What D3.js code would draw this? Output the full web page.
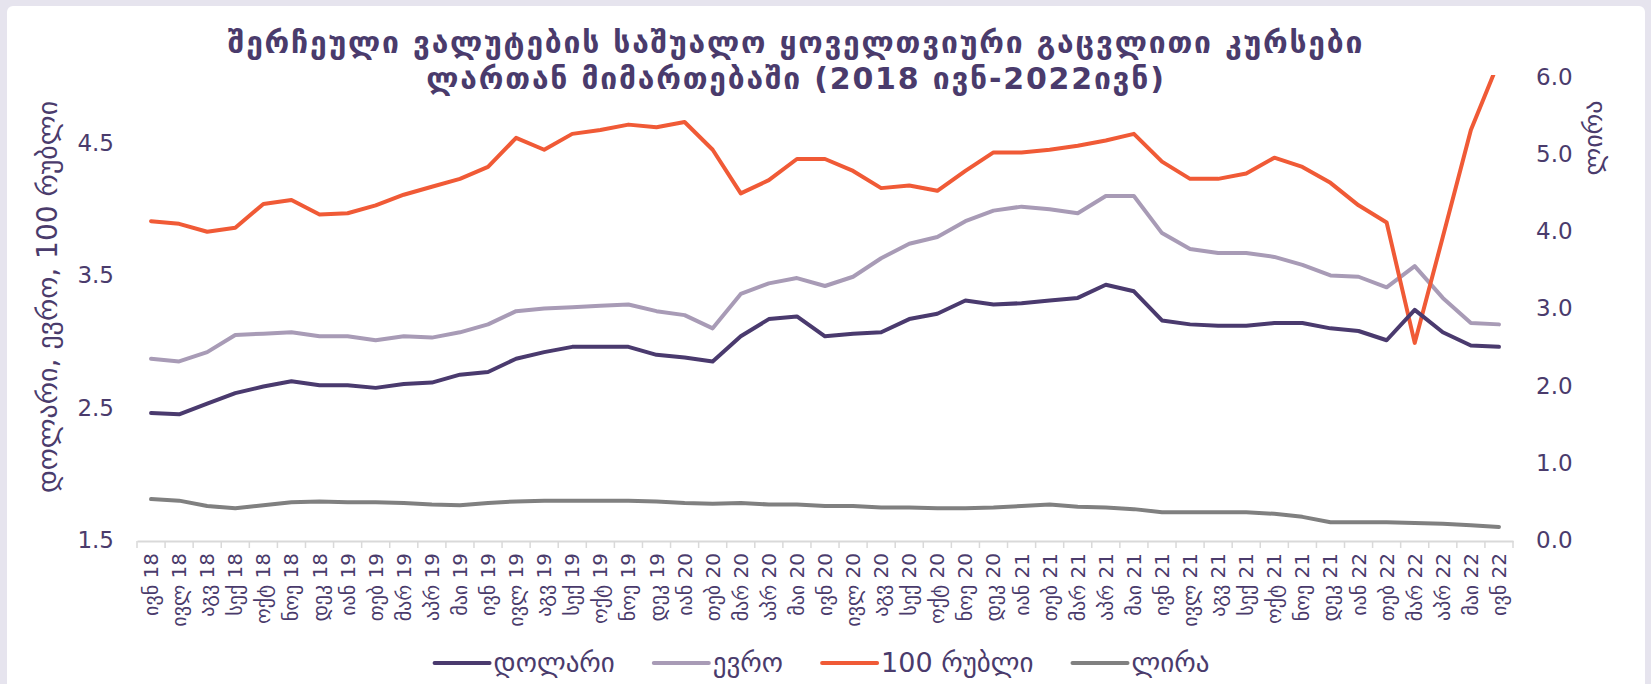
<!DOCTYPE html>
<head>
  <meta charset="utf-8">
  <style>
    html, body { margin: 0; padding: 0; background: #e6e4ee; }
    svg { display: block; }
    text { font-family: "DejaVu Sans", sans-serif; fill: #4a3b6c; }
    .title { font-weight: bold; letter-spacing: 1.8px; }
    .line { fill: none; stroke-width: 4px; stroke-linejoin: round; stroke-linecap: round; }
  </style>
  <script src="https://d3js.org/d3.v7.min.js"></script>
</head>

<body>
  <div id="content"></div>
  <script>
  // month labels (x axis)
  var labels = ["ივნ 18","ივლ 18","აგვ 18","სექ 18","ოქტ 18","ნოე 18","დეკ 18",
    "იან 19","თებ 19","მარ 19","აპრ 19","მაი 19","ივნ 19","ივლ 19","აგვ 19","სექ 19","ოქტ 19","ნოე 19","დეკ 19",
    "იან 20","თებ 20","მარ 20","აპრ 20","მაი 20","ივნ 20","ივლ 20","აგვ 20","სექ 20","ოქტ 20","ნოე 20","დეკ 20",
    "იან 21","თებ 21","მარ 21","აპრ 21","მაი 21","ივნ 21","ივლ 21","აგვ 21","სექ 21","ოქტ 21","ნოე 21","დეკ 21",
    "იან 22","თებ 22","მარ 22","აპრ 22","მაი 22","ივნ 22"];

  // left axis series
  var dollar = [2.46,2.45,2.53,2.61,2.66,2.70,2.67,2.67,2.65,2.68,2.69,2.75,2.77,2.87,2.92,2.96,2.96,2.96,2.90,2.88,
    2.85,3.04,3.17,3.19,3.04,3.06,3.07,3.17,3.21,3.31,3.28,3.29,3.31,3.33,3.43,3.38,3.16,3.13,3.12,3.12,
    3.14,3.14,3.10,3.08,3.01,3.24,3.07,2.97,2.96];
  var euro = [2.87,2.85,2.92,3.05,3.06,3.07,3.04,3.04,3.01,3.04,3.03,3.07,3.13,3.23,3.25,3.26,3.27,3.28,3.23,3.20,
    3.10,3.36,3.44,3.48,3.42,3.49,3.63,3.74,3.79,3.91,3.99,4.02,4.00,3.97,4.10,4.10,3.82,3.70,3.67,3.67,
    3.64,3.58,3.50,3.49,3.41,3.57,3.33,3.14,3.13];
  var ruble = [3.91,3.89,3.83,3.86,4.04,4.07,3.96,3.97,4.03,4.11,4.17,4.23,4.32,4.54,4.45,4.57,4.60,4.64,4.62,4.66,
    4.45,4.12,4.22,4.38,4.38,4.29,4.16,4.18,4.14,4.29,4.43,4.43,4.45,4.48,4.52,4.57,4.36,4.23,4.23,4.27,
    4.39,4.32,4.20,4.03,3.90,2.99,3.79,4.60,5.12];
  // right axis series
  var lira = [0.53,0.51,0.44,0.41,0.45,0.49,0.50,0.49,0.49,0.48,0.46,0.45,0.48,0.50,0.51,0.51,0.51,0.51,0.50,0.48,
    0.47,0.48,0.46,0.46,0.44,0.44,0.42,0.42,0.41,0.41,0.42,0.44,0.46,0.43,0.42,0.40,0.36,0.36,0.36,0.36,
    0.34,0.30,0.23,0.23,0.23,0.22,0.21,0.19,0.17];

  var leftTicks = [1.5, 2.5, 3.5, 4.5];
  var rightTicks = [0, 1, 2, 3, 4, 5, 6];

  var seriesNames = ["დოლარი", "ევრო", "100 რუბლი", "ლირა"];
  var colors = ["#4a3a6e", "#a89bb6", "#f05a36", "#808080"];

  var W = 1651, H = 684;
  var margin = {top: 77, right: 138, bottom: 144, left: 137},
      width = W - margin.left - margin.right,
      height = H - margin.top - margin.bottom;

  var svg = d3.select("#content").append("svg")
      .attr("width", W)
      .attr("height", H);

  // white panel
  svg.append("rect")
      .attr("x", 7).attr("y", 6)
      .attr("width", 1638).attr("height", H)
      .attr("rx", 6)
      .attr("fill", "#fff");

  // title
  var title = svg.append("text")
      .attr("class", "title")
      .attr("text-anchor", "middle")
      .style("font-size", "30px");
  title.append("tspan").attr("x", 796).attr("y", 53)
      .text("შერჩეული ვალუტების საშუალო ყოველთვიური გაცვლითი კურსები");
  title.append("tspan").attr("x", 796).attr("y", 89)
      .text("ლართან მიმართებაში (2018 ივნ-2022ივნ)");

  var g = svg.append("g")
      .attr("transform", "translate(" + margin.left + "," + margin.top + ")");

  // scales
  var x = d3.scaleBand().domain(labels).range([0, width]).padding(0);
  var yL = d3.scaleLinear().domain([1.5, 5]).range([height, 0]);
  var yR = d3.scaleLinear().domain([0, 6]).range([height, 0]);

  // x axis
  var xAxis = g.append("g")
      .attr("transform", "translate(0," + (height + 1) + ")")
      .call(d3.axisBottom(x).tickSize(0));
  xAxis.select(".domain").attr("stroke", "#d9d9d9").attr("stroke-width", 2);
  xAxis.selectAll(".tick text")
      .attr("transform", "rotate(-90)")
      .attr("x", -12).attr("y", 0).attr("dy", "0.35em")
      .style("text-anchor", "end")
      .style("font-size", "20px")
      .style("fill", "#4a3b6c");
  // category boundary ticks
  g.append("g").selectAll("line")
      .data(d3.range(labels.length + 1))
      .join("line")
      .attr("x1", function(i) { return i * x.step(); })
      .attr("x2", function(i) { return i * x.step(); })
      .attr("y1", height + 1).attr("y2", height + 8)
      .attr("stroke", "#d9d9d9").attr("stroke-width", 1.5);

  // left axis
  var yAxisL = g.append("g")
      .call(d3.axisLeft(yL).tickValues(leftTicks).tickFormat(d3.format(".1f")).tickSize(0).tickPadding(23));
  yAxisL.select(".domain").remove();
  yAxisL.selectAll(".tick text").style("font-size", "23px").style("fill", "#4a3b6c");

  // right axis
  var yAxisR = g.append("g")
      .attr("transform", "translate(" + width + ",0)")
      .call(d3.axisRight(yR).tickValues(rightTicks).tickFormat(d3.format(".1f")).tickSize(0).tickPadding(23));
  yAxisR.select(".domain").remove();
  yAxisR.selectAll(".tick text").style("font-size", "23px").style("fill", "#4a3b6c");

  // axis titles
  svg.append("text")
      .attr("transform", "translate(57,297) rotate(-90)")
      .attr("text-anchor", "middle")
      .style("font-size", "28px")
      .text("დოლარი, ევრო, 100 რუბლი");
  svg.append("text")
      .attr("transform", "translate(1602,138) rotate(-90)")
      .attr("text-anchor", "middle")
      .style("font-size", "26px")
      .text("ლირა");

  // clip to plot area
  g.append("clipPath").attr("id", "plot-clip")
    .append("rect").attr("x", -5).attr("y", -2).attr("width", width + 10).attr("height", height + 4);

  var cx = function(d, i) { return x(labels[i]) + x.bandwidth() / 2; };
  var lineL = d3.line().x(cx).y(function(d) { return yL(d); });
  var lineR = d3.line().x(cx).y(function(d) { return yR(d); });

  var lines = g.append("g").attr("clip-path", "url(#plot-clip)");
  lines.append("path").datum(lira).attr("class", "line").attr("stroke", colors[3]).attr("d", lineR);
  lines.append("path").datum(euro).attr("class", "line").attr("stroke", colors[1]).attr("d", lineL);
  lines.append("path").datum(ruble).attr("class", "line").attr("stroke", colors[2]).attr("d", lineL);
  lines.append("path").datum(dollar).attr("class", "line").attr("stroke", colors[0]).attr("d", lineL);

  // legend
  var legend = svg.append("g");
  var lx = 0;
  var items = legend.selectAll("g")
      .data(seriesNames)
      .join("g");
  items.append("line")
      .attr("x1", 0).attr("x2", 55).attr("y1", 0).attr("y2", 0)
      .attr("stroke", function(d, i) { return colors[i]; })
      .attr("stroke-width", 4)
      .attr("stroke-linecap", "round");
  items.append("text")
      .attr("x", 59).attr("dy", "0.35em")
      .style("font-size", "27px")
      .text(function(d) { return d; });
  items.each(function() {
    var w = this.getBBox().width;
    d3.select(this).attr("transform", "translate(" + lx + ",0)");
    lx += w + 39;
  });
  legend.attr("transform", "translate(" + (822 - (lx - 39) / 2) + ",663)");
  </script>
</body>
</html>
